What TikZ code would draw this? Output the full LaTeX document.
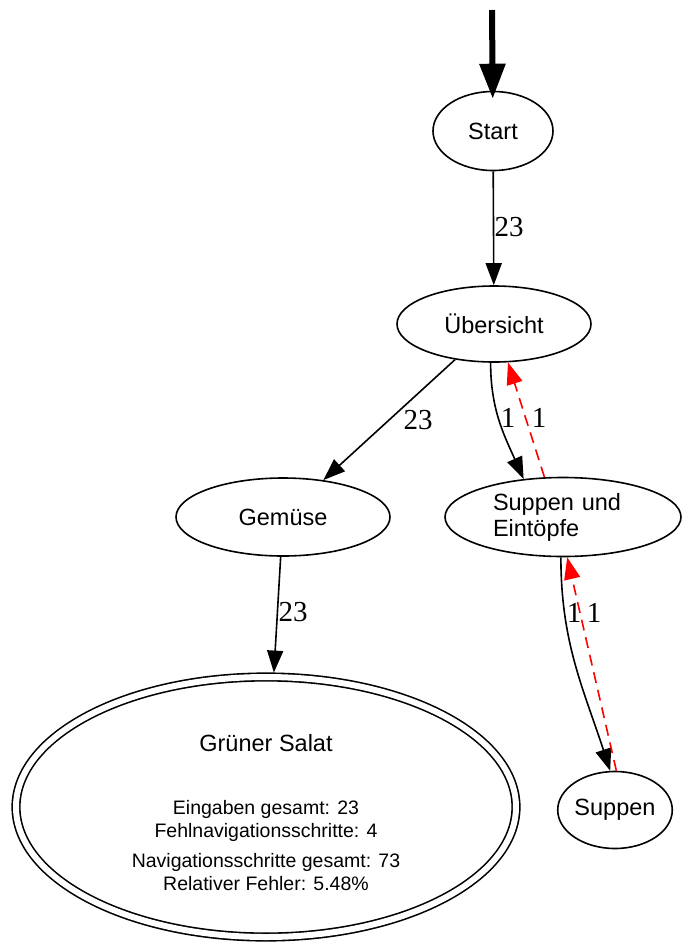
\documentclass[tikz,border=0pt]{standalone}
\usepackage{fontspec}
\setmainfont{Liberation Serif}
\newfontfamily\arialfont{Liberation Sans}
\usepackage{tikz}
\usetikzlibrary{arrows.meta, shapes.geometric}

\begin{document}
\begin{tikzpicture}[
  x=1pt, y=-1pt,
  state/.style={ellipse, draw, line width=1.6pt, inner sep=0pt, font=\arialfont\fontsize{23.5}{26}\selectfont},
  final/.style={state, double, double distance=6pt, outer sep=4.5pt, align=center, font=\arialfont\fontsize{19.5}{23}\selectfont},
  arrow/.style={-{Triangle[length=22pt, width=16pt]}, line width=1.6pt},
  back_arrow/.style={arrow, red, dash pattern=on 11pt off 7pt},
  entry_arrow/.style={-{Triangle[length=35pt, width=25pt]}, line width=6pt, shorten >=-8pt},
  edge_label/.style={font=\fontsize{29}{30}\selectfont, inner sep=0pt}
]
  \useasboundingbox (0,0) rectangle (687,946);

  % States
  \coordinate (entry) at (492,10);
  \node[state, minimum width=120pt, minimum height=79pt] (start) at (493,131) {Start};
  \node[state, minimum width=194pt, minimum height=76pt] (ueb) at (494,324) {Übersicht};
  \node[state, minimum width=214pt, minimum height=78pt] (gem) at (283,517) {Gemüse};
  \node[state, minimum width=236pt, minimum height=79pt, text width=140pt, align=left] (sue) at (563,517) {Suppen und\\Eintöpfe};
  \node[state, minimum width=114pt, minimum height=77pt] (sup) at (615,810) {Suppen};
  \node[final, minimum width=500pt, minimum height=260pt] (gs) at (266,807)
    {\rule{0pt}{28pt}{\fontsize{23.5}{26}\selectfont Grüner Salat}\\[40pt]
     Eingaben gesamt: 23\\
     Fehlnavigationsschritte: 4\\[7pt]
     Navigationsschritte gesamt: 73\\
     Relativer Fehler: 5.48\%};

  % Forward steps
  \draw[entry_arrow] (entry) -- (start);
  \draw[arrow] (start) -- (ueb);
  \draw[arrow] (ueb) -- (gem);
  \draw[arrow] (gem) -- (gs);
  \draw[arrow] (ueb.265) to[out=-90, in=114] (sue.136);
  \draw[arrow] (sue.267) to[out=-90, in=108] (sup.97);

  % Back steps
  \draw[back_arrow] (sue.115) -- (ueb.290);
  \draw[back_arrow] (sup.88) -- (sue.276);

  % Counts
  \node[edge_label] (n_start) at (509,227) {23};
  \node[edge_label] (n_gem) at (418,420) {23};
  \node[edge_label] (n_sue) at (508,418) {1};
  \node[edge_label] (n_sue_back) at (539,418) {1};
  \node[edge_label] (n_gs) at (293,612) {23};
  \node[edge_label] (n_sup) at (574,613) {1};
  \node[edge_label] (n_sup_back) at (594,613) {1};

\end{tikzpicture}
\end{document}
